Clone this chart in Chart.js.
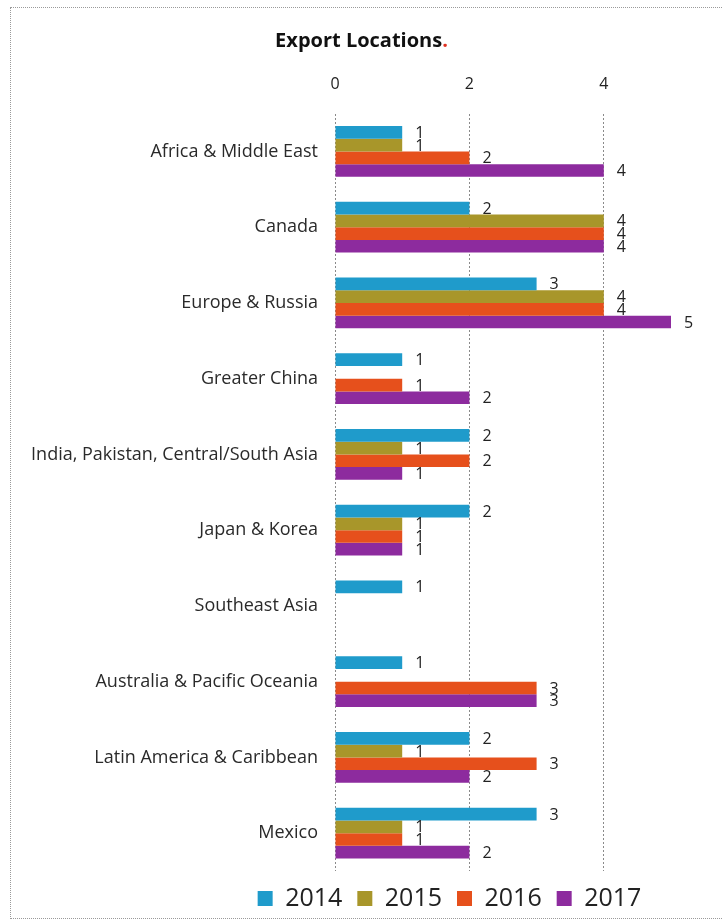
<!DOCTYPE html>
<html>
<head>
<meta charset="utf-8">
<script src="https://cdn.jsdelivr.net/npm/chart.js@4/dist/chart.umd.min.js"></script>
<style>
  html, body { margin: 0; padding: 0; background: #fff; overflow: hidden; }
  #wrap { position: relative; width: 723px; height: 921px; }
  #c { position: absolute; left: 0; top: 0; }
  #frame { position: absolute; left: 10px; top: 7px; width: 730px; height: 910px;
           border: 1px dotted #9a9a9a; pointer-events: none; }
</style>
</head>
<body>
<div id="wrap">
  <canvas id="c" width="723" height="921"></canvas>
  <div id="frame"></div>
</div>
<script>
// Export destinations, number of shipments per year
const regions = [
  'Africa & Middle East',
  'Canada',
  'Europe & Russia',
  'Greater China',
  'India, Pakistan, Central/South Asia',
  'Japan & Korea',
  'Southeast Asia',
  'Australia & Pacific Oceania',
  'Latin America & Caribbean',
  'Mexico'
];
const years = ['2014', '2015', '2016', '2017'];
const v2014 = [1, 2, 3, 1, 2, 2, 1, 1, 2, 3];
const v2015 = [1, 4, 4, null, 1, 1, null, null, 1, 1];
const v2016 = [2, 4, 4, 1, 2, 1, null, 3, 3, 1];
const v2017 = [4, 4, 5, 2, 1, 1, null, 3, 2, 2];
const xTicks = [0, 2, 4];
const chartTitle = 'Export Locations';

const palette = ['#1f9bcb', '#a8962a', '#e6501c', '#8d2b9e'];
const seriesValues = [v2014, v2015, v2016, v2017];

Chart.defaults.font.family = '"Open Sans", "DejaVu Sans", sans-serif';
Chart.defaults.color = '#222';

// value printed just past the end of each bar
const valueLabels = {
  id: 'valueLabels',
  afterDatasetsDraw(chart) {
    const ctx = chart.ctx;
    ctx.save();
    ctx.font = '16px "Open Sans", sans-serif';
    ctx.fillStyle = '#222';
    ctx.textAlign = 'left';
    ctx.textBaseline = 'middle';
    chart.data.datasets.forEach((ds, i) => {
      chart.getDatasetMeta(i).data.forEach((bar, j) => {
        const v = ds.data[j];
        if (v === null || v === undefined) return;
        ctx.fillText(String(v), bar.x + 13, bar.y + 1);
      });
    });
    ctx.restore();
  }
};

// title with a red full stop, centred on the canvas
const titleText = {
  id: 'titleText',
  afterDraw(chart) {
    const tb = chart.titleBlock;
    if (!tb) return;
    const ctx = chart.ctx;
    const pad = tb.options.padding;
    const y = tb.top + (pad.top || 0) + 12;
    ctx.save();
    ctx.font = 'bold 20px "Open Sans", sans-serif';
    ctx.textBaseline = 'middle';
    ctx.textAlign = 'left';
    const w1 = ctx.measureText(chartTitle).width;
    const w2 = ctx.measureText('.').width;
    const x0 = chart.width / 2 - (w1 + w2) / 2;
    ctx.fillStyle = '#111';
    ctx.fillText(chartTitle, x0, y);
    ctx.fillStyle = '#e03020';
    ctx.fillText('.', x0 + w1, y);
    ctx.restore();
  }
};

// legend row sits a little right of centre, under the bars
const legendShift = {
  id: 'legendShift',
  afterLayout(chart) {
    const lg = chart.legend;
    if (!lg) return;
    const dx = 114;
    lg.left += dx;
    lg.right += dx;
  }
};

new Chart(document.getElementById('c'), {
  type: 'bar',
  data: {
    labels: regions,
    datasets: years.map((yr, i) => ({
      label: yr,
      data: seriesValues[i],
      backgroundColor: palette[i],
      borderWidth: 0,
      categoryPercentage: 0.67,
      barPercentage: 1.0
    }))
  },
  options: {
    indexAxis: 'y',
    responsive: false,
    animation: false,
    devicePixelRatio: 1,
    layout: { padding: { left: 0, right: 52, top: 0, bottom: 0 } },
    plugins: {
      title: {
        display: true,
        text: chartTitle + '.',
        color: 'rgba(0,0,0,0)',
        font: { size: 18, weight: 'bold' },
        padding: { top: 29, bottom: 11 }
      },
      legend: {
        position: 'bottom',
        labels: {
          boxWidth: 15,
          boxHeight: 15,
          padding: 15,
          color: '#222',
          font: { size: 25 }
        }
      },
      tooltip: { enabled: false }
    },
    scales: {
      x: {
        position: 'top',
        min: 0,
        max: 5,
        afterFit(scale) { scale.height = 52; },
        afterBuildTicks(scale) { scale.ticks = xTicks.map(v => ({ value: v })); },
        ticks: { stepSize: 2, padding: 20, color: '#222', font: { size: 16 } },
        grid: { color: '#8a8a8a', lineWidth: 1, drawTicks: false },
        border: { display: false, dash: [2, 2] }
      },
      y: {
        afterFit(scale) { scale.width = 335; },
        ticks: { autoSkip: false, padding: 17, color: '#2a2a2a', font: { size: 18 } },
        grid: { display: false, drawTicks: false },
        border: { display: false }
      }
    }
  },
  plugins: [valueLabels, titleText, legendShift]
});
</script>
</body>
</html>
